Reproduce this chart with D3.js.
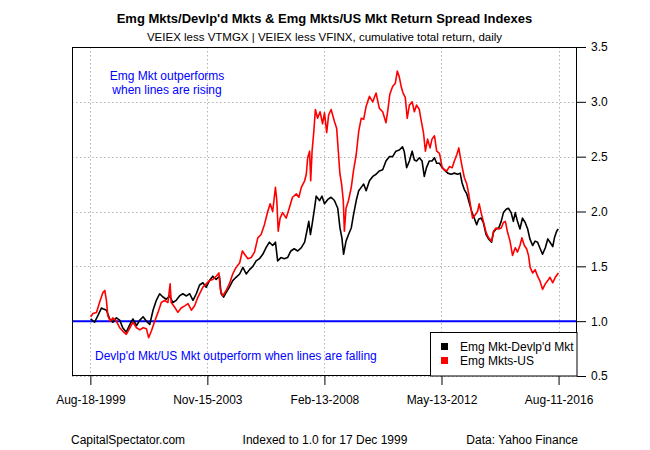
<!DOCTYPE html>
<html><head><meta charset="utf-8">
<script src="https://cdn.jsdelivr.net/npm/d3@7"></script>
<style>
body{margin:0;background:#fff}
svg text{font-family:"Liberation Sans",Arial,Helvetica,sans-serif}
</style>
</head><body>
<svg id="chart" width="650" height="450"></svg>
<script>
// ---- data ----
const tickDates = ["1999-08-18","2003-11-15","2008-02-13","2012-05-13","2016-08-11"];
const tickLabels = ["Aug-18-1999","Nov-15-2003","Feb-13-2008","May-13-2012","Aug-11-2016"];
const yTicks = [0.5,1.0,1.5,2.0,2.5,3.0,3.5];
const seriesNames = ["Emg Mkt-Devlp'd Mkt","Emg Mkts-US"];
const seriesColors = ["#000000","#ff0000"];
const baseline = 1.0;

// Emg Mkt - Devlp'd Mkt (decimal years, index values)
const blackYears = [1999.64,1999.78,1999.90,2000.03,2000.11,2000.21,2000.33,2000.44,2000.57,2000.69,2000.80,2000.93,
2001.06,2001.17,2001.30,2001.42,2001.54,2001.66,2001.78,2001.90,2002.02,2002.14,2002.26,2002.38,2002.50,2002.62,2002.74,
2002.86,2002.98,2003.11,2003.23,2003.35,2003.47,2003.59,2003.71,2003.83,2003.95,2004.07,2004.19,2004.31,2004.37,2004.46,
2004.55,2004.67,2004.79,2004.91,2005.04,2005.16,2005.28,2005.40,2005.52,2005.64,2005.76,2005.88,2006.00,2006.12,2006.24,
2006.34,2006.42,2006.54,2006.66,2006.78,2006.90,2007.02,2007.15,2007.28,2007.40,2007.48,2007.55,2007.61,2007.67,2007.76,
2007.82,2007.94,2008.03,2008.12,2008.24,2008.36,2008.48,2008.60,2008.68,2008.75,2008.81,2008.90,2008.99,2009.09,2009.17,
2009.27,2009.36,2009.45,2009.54,2009.63,2009.75,2009.87,2009.99,2010.11,2010.23,2010.35,2010.47,2010.59,2010.71,2010.83,
2010.95,2011.01,2011.10,2011.20,2011.30,2011.38,2011.46,2011.56,2011.66,2011.74,2011.82,2011.92,2012.02,2012.11,2012.19,
2012.29,2012.39,2012.47,2012.59,2012.71,2012.83,2012.95,2013.04,2013.11,2013.19,2013.28,2013.37,2013.47,2013.55,2013.64,
2013.71,2013.80,2013.88,2013.98,2014.07,2014.18,2014.25,2014.34,2014.44,2014.53,2014.61,2014.71,2014.79,2014.89,2014.97,
2015.04,2015.12,2015.21,2015.30,2015.40,2015.49,2015.57,2015.67,2015.76,2015.85,2015.93,2016.03,2016.13,2016.22,2016.30,
2016.40,2016.46,2016.54,2016.60];
const blackValues = [1.02,0.99,1.05,1.12,1.11,1.10,1.02,0.99,1.03,1.01,0.94,0.90,
0.97,1.02,0.96,1.01,1.04,1.00,0.97,1.10,1.19,1.25,1.22,1.20,1.23,1.17,1.19,
1.23,1.25,1.23,1.25,1.19,1.25,1.33,1.35,1.31,1.37,1.41,1.38,1.41,1.25,1.22,
1.26,1.31,1.37,1.40,1.43,1.49,1.43,1.47,1.50,1.55,1.57,1.61,1.67,1.72,1.69,
1.72,1.55,1.58,1.57,1.58,1.64,1.66,1.64,1.67,1.72,1.82,1.91,1.79,1.88,2.03,
2.14,2.10,2.14,2.07,2.11,2.13,2.10,2.03,1.85,1.76,1.61,1.73,1.79,1.85,1.97,
2.10,2.19,2.22,2.25,2.19,2.28,2.32,2.34,2.37,2.38,2.46,2.50,2.50,2.55,2.56,
2.59,2.55,2.40,2.46,2.55,2.47,2.46,2.49,2.46,2.32,2.40,2.46,2.46,2.49,2.44,
2.44,2.40,2.38,2.35,2.34,2.35,2.34,2.35,2.26,2.20,2.16,2.08,1.99,1.94,1.88,
1.93,1.94,1.90,1.79,1.75,1.72,1.81,1.84,1.85,1.91,1.99,2.02,2.03,1.99,1.91,
1.99,1.91,1.84,1.94,1.90,1.84,1.75,1.69,1.73,1.72,1.67,1.61,1.67,1.75,1.72,
1.68,1.76,1.82,1.84];

// Emg Mkts - US
const redYears = [1999.64,1999.72,1999.85,1999.96,2000.08,2000.15,2000.21,2000.26,2000.35,2000.44,2000.57,2000.69,2000.80,
2000.93,2001.06,2001.17,2001.30,2001.42,2001.54,2001.66,2001.74,2001.84,2001.96,2002.08,2002.20,2002.32,2002.44,2002.52,
2002.56,2002.68,2002.80,2002.92,2003.05,2003.17,2003.29,2003.41,2003.53,2003.71,2003.83,2003.95,2004.07,2004.19,2004.29,
2004.34,2004.43,2004.55,2004.67,2004.79,2004.91,2005.04,2005.14,2005.22,2005.34,2005.46,2005.58,2005.70,2005.82,2005.94,
2006.06,2006.15,2006.24,2006.34,2006.39,2006.44,2006.51,2006.60,2006.73,2006.84,2006.96,2007.10,2007.19,2007.28,2007.40,
2007.46,2007.51,2007.58,2007.62,2007.67,2007.73,2007.79,2007.87,2007.96,2008.05,2008.12,2008.20,2008.27,2008.36,2008.48,
2008.56,2008.62,2008.68,2008.74,2008.80,2008.84,2008.90,2008.99,2009.09,2009.17,2009.27,2009.36,2009.45,2009.54,2009.63,
2009.75,2009.87,2009.99,2010.11,2010.23,2010.35,2010.41,2010.49,2010.59,2010.69,2010.76,2010.83,2010.91,2010.97,2011.05,
2011.12,2011.20,2011.30,2011.38,2011.46,2011.56,2011.62,2011.71,2011.78,2011.86,2011.95,2012.02,2012.11,2012.19,2012.29,
2012.39,2012.47,2012.56,2012.65,2012.75,2012.83,2012.92,2012.99,2013.05,2013.11,2013.19,2013.28,2013.35,2013.43,2013.49,
2013.59,2013.67,2013.73,2013.80,2013.88,2013.98,2014.07,2014.18,2014.25,2014.34,2014.44,2014.53,2014.61,2014.68,2014.76,
2014.85,2014.94,2015.04,2015.12,2015.21,2015.28,2015.37,2015.45,2015.52,2015.58,2015.67,2015.76,2015.85,2015.93,2016.03,
2016.13,2016.22,2016.30,2016.40,2016.49,2016.58,2016.60];
const redValues = [1.04,1.07,1.08,1.17,1.26,1.28,1.19,1.05,1.00,1.03,1.00,0.94,0.91,
0.88,0.94,0.99,0.94,0.92,0.94,0.93,0.85,0.91,1.00,1.08,1.17,1.19,1.17,1.34,
1.17,1.13,1.08,1.12,1.14,1.16,1.10,1.14,1.22,1.31,1.34,1.37,1.38,1.41,1.44,
1.29,1.23,1.28,1.34,1.43,1.49,1.53,1.64,1.61,1.57,1.58,1.63,1.76,1.79,1.88,
2.00,2.07,2.00,2.22,2.10,1.82,1.94,1.99,1.94,2.03,2.13,2.16,2.13,2.22,2.28,
2.34,2.49,2.55,2.28,2.55,2.72,2.93,2.85,2.91,2.80,2.90,2.72,2.88,2.93,2.82,
2.76,2.55,2.34,2.25,2.10,1.82,2.03,2.10,2.22,2.37,2.52,2.73,2.85,2.84,2.96,
3.05,3.00,3.08,2.94,2.91,2.81,2.91,3.07,3.14,3.17,3.28,3.23,3.13,3.08,3.04,
2.85,2.97,3.00,2.91,2.97,2.93,2.84,2.72,2.55,2.66,2.58,2.66,2.69,2.55,2.53,
2.40,2.38,2.37,2.41,2.40,2.46,2.52,2.58,2.49,2.41,2.31,2.25,2.16,2.03,1.94,
1.97,2.00,2.07,1.99,1.91,1.81,1.76,1.73,1.82,1.85,1.84,1.85,1.90,1.91,1.81,
1.73,1.60,1.67,1.63,1.69,1.76,1.69,1.66,1.60,1.49,1.44,1.47,1.41,1.37,1.29,
1.34,1.37,1.40,1.35,1.40,1.43,1.44];

// ---- chart ----
function decToDate(d){
  const yr = Math.floor(d);
  const s = Date.UTC(yr,0,1), e = Date.UTC(yr+1,0,1);
  return new Date(s + (d-yr)*(e-s));
}
const seriesData = [
  blackYears.map((t,i)=>({date:decToDate(t), v:blackValues[i]})),
  redYears.map((t,i)=>({date:decToDate(t), v:redValues[i]}))
];

const L=72, R=577, T=47, B=376;
const svg = d3.select("#chart");
const allDates = seriesData.flat().map(d=>d.date);
const ext = d3.extent(allDates);
const pad = (ext[1]-ext[0])*0.04;
const x = d3.scaleUtc().domain([new Date(+ext[0]-pad), new Date(+ext[1]+pad)]).range([L,R]);
const y = d3.scaleLinear().domain([0.5,3.5]).range([B,T]);
const tickD = tickDates.map(s=>new Date(s+"T00:00:00Z"));

// title
svg.append("text").attr("x",(L+R)/2).attr("y",23).attr("text-anchor","middle")
  .attr("font-size",13).attr("font-weight","bold")
  .text("Emg Mkts/Devlp'd Mkts & Emg Mkts/US Mkt Return Spread Indexes");
svg.append("text").attr("x",(L+R)/2).attr("y",41).attr("text-anchor","middle")
  .attr("font-size",11.5)
  .text("VEIEX less VTMGX | VEIEX less VFINX, cumulative total return, daily");

// grid
const grid = svg.append("g").attr("stroke","#b4b4b4").attr("stroke-dasharray","1.5,2.5").attr("stroke-width",1);
grid.selectAll("line.h").data(yTicks).join("line").attr("class","h")
  .attr("x1",L).attr("x2",R).attr("y1",d=>Math.round(y(d))+0.5).attr("y2",d=>Math.round(y(d))+0.5);
grid.selectAll("line.v").data(tickD).join("line").attr("class","v")
  .attr("y1",T).attr("y2",B).attr("x1",d=>Math.round(x(d))+0.5).attr("x2",d=>Math.round(x(d))+0.5);

// baseline
svg.append("line").attr("x1",L).attr("x2",R).attr("y1",y(baseline)).attr("y2",y(baseline))
  .attr("stroke","#0000ff").attr("stroke-width",2);

// series
const line = d3.line().x(d=>x(d.date)).y(d=>y(d.v));
seriesData.forEach((s,i)=>{
  svg.append("path").datum(s).attr("d",line).attr("fill","none")
    .attr("stroke",seriesColors[i]).attr("stroke-width",1.6).attr("stroke-linejoin","round");
});

// box
svg.append("rect").attr("x",L+0.5).attr("y",T+0.5).attr("width",R-L-1).attr("height",B-T-1)
  .attr("fill","none").attr("stroke","#000").attr("stroke-width",1);

// axes
const xAxis = d3.axisBottom(x).tickValues(tickD).tickFormat((d,i)=>tickLabels[i]).tickSize(9).tickPadding(10).tickSizeOuter(0);
const gx = svg.append("g").attr("transform",`translate(0,${B})`).call(xAxis);
gx.select(".domain").remove();
gx.selectAll("text").attr("font-size",12).attr("font-family",null).attr("fill","#000");
gx.selectAll("line").attr("stroke","#000");

const yAxis = d3.axisRight(y).tickValues(yTicks).tickFormat(d3.format(".1f")).tickSize(9).tickPadding(5).tickSizeOuter(0);
const gy = svg.append("g").attr("transform",`translate(${R},0)`).call(yAxis);
gy.select(".domain").remove();
gy.selectAll("text").attr("font-size",12).attr("font-family",null).attr("fill","#000");
gy.selectAll("line").attr("stroke","#000");

// annotations
const ann = svg.append("g").attr("fill","#0000ff").attr("font-size",12);
ann.append("text").attr("x",167).attr("y",80).attr("text-anchor","middle").text("Emg Mkt outperforms");
ann.append("text").attr("x",167).attr("y",94).attr("text-anchor","middle").text("when lines are rising");
ann.append("text").attr("x",95).attr("y",360).text("Devlp'd Mkt/US Mkt outperform when lines are falling");

// legend
const lg = svg.append("g");
lg.append("rect").attr("x",430.5).attr("y",332.5).attr("width",R-430.5).attr("height",B-332.5)
  .attr("fill","#fff").attr("stroke","#000");
seriesNames.forEach((n,i)=>{
  lg.append("rect").attr("x",441).attr("y",343+i*14).attr("width",7).attr("height",7).attr("fill",seriesColors[i]);
  lg.append("text").attr("x",460).attr("y",351+i*14).attr("font-size",12).text(n);
});

// footer
const ft = svg.append("g").attr("font-size",12);
ft.append("text").attr("x",71).attr("y",444).text("CapitalSpectator.com");
ft.append("text").attr("x",325).attr("y",444).attr("text-anchor","middle").text("Indexed to 1.0 for 17 Dec 1999");
ft.append("text").attr("x",578).attr("y",444).attr("text-anchor","end").text("Data: Yahoo Finance");
</script>
</body></html>
